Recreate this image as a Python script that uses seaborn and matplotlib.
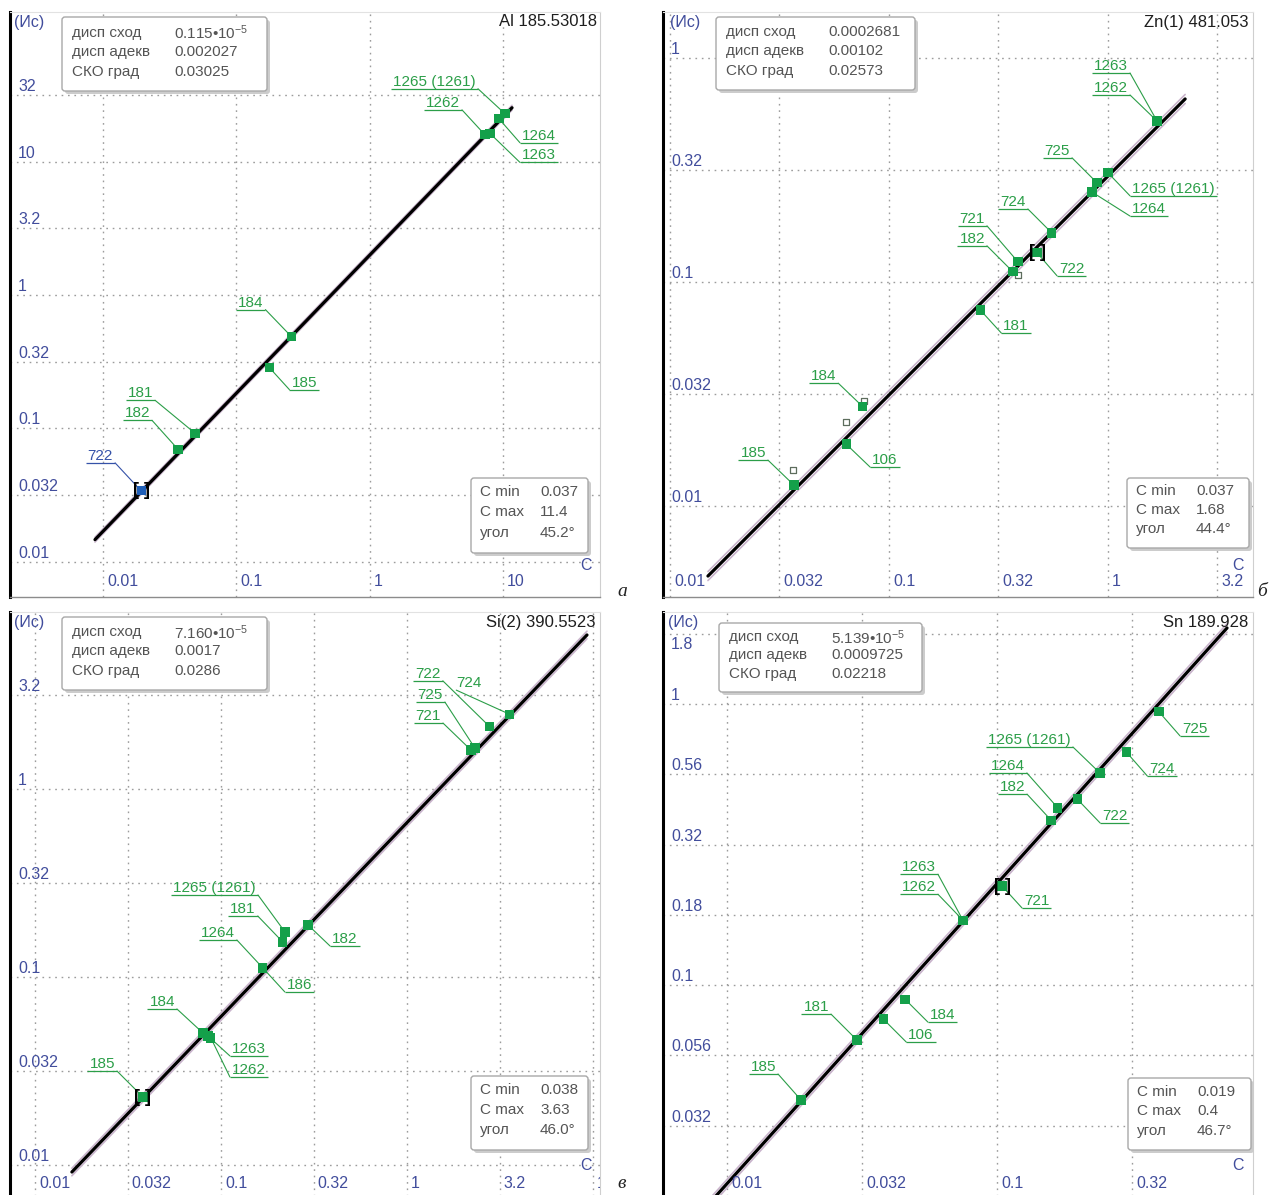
import matplotlib
matplotlib.use("Agg")
import matplotlib.pyplot as plt
from matplotlib.patches import FancyBboxPatch
from matplotlib.transforms import IdentityTransform
from matplotlib.ticker import FixedLocator, NullLocator
import numpy as np
import pandas as pd
import seaborn as sns

# ---------------- Al 185.53018 ----------------
al_ids = ["722", "181", "182", "184", "185", "1265 (1261)", "1262", "1264", "1263"]
al_c = [0.0193, 0.049, 0.0365, 0.259, 0.177, 10.35, 7.33, 9.33, 7.99]
al_i = [0.0339, 0.0917, 0.0695, 0.487, 0.285, 22.9, 15.9, 21.0, 16.3]
al_line_c = [0.0087, 11.7]
al_line_i = [0.0146, 25.4]
al_stats = ["0.115•$10^{-5}$", "0.002027", "0.03025"]
al_range = ["0.037", "11.4", "45.2°"]
al_xticks = [0.01, 0.1, 1, 10]
al_xlabels = ["0.01", "0.1", "1", "10"]
al_yticks = [0.01, 0.0316, 0.1, 0.316, 1, 3.16, 10, 31.6]
al_ylabels = ["0.01", "0.032", "0.1", "0.32", "1", "3.2", "10", "32"]

# ---------------- Zn(1) 481.053 ----------------
zn_ids = ["1263", "1262", "725", "1265 (1261)", "1264", "724", "722", "721",
          "182", "181", "184", "106", "185"]
zn_c = [1.674, 1.674, 0.891, 1.0, 0.845, 0.554, 0.474, 0.388,
        0.368, 0.261, 0.0755, 0.0637, 0.0368]
zn_i = [0.523, 0.523, 0.277, 0.307, 0.252, 0.1655, 0.135, 0.123,
        0.111, 0.075, 0.0279, 0.0189, 0.0124]
zn_excl_c = [0.0365, 0.0637, 0.0769, 0.388]
zn_excl_i = [0.01448, 0.0237, 0.0294, 0.1075]
zn_line_c = [0.0149, 2.25]
zn_line_i = [0.00487, 0.656]
zn_stats = ["0.0002681", "0.00102", "0.02573"]
zn_range = ["0.037", "1.68", "44.4°"]
zn_xticks = [0.01, 0.0316, 0.1, 0.316, 1, 3.16]
zn_xlabels = ["0.01", "0.032", "0.1", "0.32", "1", "3.2"]
zn_yticks = [0.01, 0.0316, 0.1, 0.316, 1]
zn_ylabels = ["0.01", "0.032", "0.1", "0.32", "1"]

# ---------------- Si(2) 390.5523 ----------------
si_ids = ["724", "722", "725", "721", "1265 (1261)", "181", "182", "1264", "186",
          "184", "1263", "1262", "185"]
si_c = [3.55, 2.79, 2.32, 2.21, 0.221, 0.215, 0.294, 0.168, 0.168,
        0.080, 0.0851, 0.0883, 0.0381]
si_i = [2.5, 2.14, 1.65, 1.61, 0.1735, 0.1535, 0.189, 0.1117, 0.1117,
        0.0504, 0.0486, 0.0474, 0.023]
si_line_c = [0.0158, 9.29]
si_line_i = [0.00918, 6.59]
si_stats = ["7.160•$10^{-5}$", "0.0017", "0.0286"]
si_range = ["0.038", "3.63", "46.0°"]
si_xticks = [0.01, 0.0316, 0.1, 0.316, 1, 3.16, 10]
si_xlabels = ["0.01", "0.032", "0.1", "0.32", "1", "3.2", "10"]
si_yticks = [0.01, 0.0316, 0.1, 0.316, 1, 3.16]
si_ylabels = ["0.01", "0.032", "0.1", "0.32", "1", "3.2"]

# ---------------- Sn 189.928 ----------------
sn_ids = ["725", "724", "1265 (1261)", "722", "1264", "182", "721", "1263", "1262",
          "184", "106", "181", "185"]
sn_c = [0.398, 0.301, 0.2405, 0.198, 0.168, 0.1585, 0.1044, 0.0748, 0.0748,
        0.0456, 0.0379, 0.0303, 0.0188]
sn_i = [0.937, 0.675, 0.568, 0.459, 0.4265, 0.386, 0.225, 0.170, 0.170,
        0.0891, 0.0757, 0.0637, 0.039]
sn_line_c = [0.0085, 0.711]
sn_line_i = [0.01652, 1.863]
sn_stats = ["5.139•$10^{-5}$", "0.0009725", "0.02218"]
sn_range = ["0.019", "0.4", "46.7°"]
sn_xticks = [0.01, 0.0316, 0.1, 0.316]
sn_xlabels = ["0.01", "0.032", "0.1", "0.32"]
sn_yticks = [0.0316, 0.0562, 0.1, 0.178, 0.316, 0.562, 1, 1.78]
sn_ylabels = ["0.032", "0.056", "0.1", "0.18", "0.32", "0.56", "1", "1.8"]

stat_names = ["дисп сход", "дисп адекв", "СКО град"]
range_names = ["C min", "C max", "угол"]

panels = [
    dict(title="Al 185.53018", ids=al_ids, c=al_c, i=al_i, line_c=al_line_c, line_i=al_line_i,
         stats=al_stats, rng=al_range, xticks=al_xticks, xlabels=al_xlabels,
         yticks=al_yticks, ylabels=al_ylabels, excl_c=[], excl_i=[], sel="722", blue="722"),
    dict(title="Zn(1) 481.053", ids=zn_ids, c=zn_c, i=zn_i, line_c=zn_line_c, line_i=zn_line_i,
         stats=zn_stats, rng=zn_range, xticks=zn_xticks, xlabels=zn_xlabels,
         yticks=zn_yticks, ylabels=zn_ylabels, excl_c=zn_excl_c, excl_i=zn_excl_i,
         sel="722", blue=None),
    dict(title="Si(2) 390.5523", ids=si_ids, c=si_c, i=si_i, line_c=si_line_c, line_i=si_line_i,
         stats=si_stats, rng=si_range, xticks=si_xticks, xlabels=si_xlabels,
         yticks=si_yticks, ylabels=si_ylabels, excl_c=[], excl_i=[], sel="185", blue=None),
    dict(title="Sn 189.928", ids=sn_ids, c=sn_c, i=sn_i, line_c=sn_line_c, line_i=sn_line_i,
         stats=sn_stats, rng=sn_range, xticks=sn_xticks, xlabels=sn_xlabels,
         yticks=sn_yticks, ylabels=sn_ylabels, excl_c=[], excl_i=[], sel="721", blue=None),
]

# Layout in pixels: frame = (left, top, right, bottom); label offsets = (dx, dy up, style)
layouts = [
    dict(frame=(10, 12, 600, 597), xlim=(-2.698, 1.728), ylim=(-2.266, 2.123),
         info=(62, 17, 267, 91), rbox=(471, 478, 588, 553), title_xy=(597, 22),
         unit_xy=(14, 22), c_xy=(586, 565), xlab_up=16, letter=("а", 622, 592),
         band=0.018, below=(),
         offsets={"722": (-26, 28, "u"), "181": (-40, 33, "u"), "182": (-26, 29, "u"),
                  "184": (-26, 27, "u"), "185": (20, -22, "u"),
                  "1265 (1261)": (-27, 25, "u"), "1262": (-23, 25, "u"),
                  "1264": (21, -24, "u"), "1263": (30, -29, "u")}),
    dict(frame=(663, 12, 1253, 597), xlim=(-2.032, 0.662), ylim=(-2.406, 0.205),
         info=(716, 17, 915, 90), rbox=(1127, 478, 1249, 548), title_xy=(1248, 22),
         unit_xy=(670, 22), c_xy=(1238, 565), xlab_up=16, letter=("б", 1262, 592),
         band=0.02, below=(),
         offsets={"1263": (-27, 48, "u"), "1262": (-27, 26, "u"), "725": (-25, 25, "u"),
                  "1265 (1261)": (22, -23, "u"), "1264": (38, -24, "u"),
                  "724": (-24, 24, "u"), "722": (20, -23, "u"), "721": (-31, 36, "u"),
                  "182": (-26, 26, "u"), "181": (21, -23, "u"), "184": (-24, 23, "u"),
                  "106": (24, -23, "u"), "185": (-26, 25, "u")}),
    dict(frame=(10, 612, 600, 1197), xlim=(-2.134, 1.038), ylim=(-2.170, 0.941),
         info=(62, 617, 267, 690), rbox=(471, 1076, 588, 1150), title_xy=(595, 622),
         unit_xy=(14, 623), c_xy=(586, 1165), xlab_up=14, letter=("в", 622, 1184),
         band=0.02, below=(),
         offsets={"724": (-53, 24, "plain"), "722": (-47, 46, "u"), "725": (-30, 46, "u"),
                  "721": (-28, 27, "u"), "1265 (1261)": (-27, 37, "u"),
                  "181": (-25, 26, "u"), "182": (22, -21, "u"), "1264": (-26, 28, "u"),
                  "186": (22, -24, "u"), "184": (-26, 24, "u"), "1263": (22, -20, "u"),
                  "1262": (19, -39, "u"), "185": (-26, 26, "u")}),
    dict(frame=(663, 612, 1253, 1197), xlim=(-2.237, -0.052), ylim=(-1.754, 0.327),
         info=(719, 623, 922, 692), rbox=(1128, 1078, 1251, 1150), title_xy=(1248, 623),
         unit_xy=(668, 623), c_xy=(1238, 1165), xlab_up=14, letter=None,
         band=0.015, below=("1.8",),
         offsets={"725": (21, -24, "u"), "724": (21, -24, "u"),
                  "1265 (1261)": (-27, 26, "u"), "722": (23, -24, "u"),
                  "1264": (-31, 35, "u"), "182": (-24, 26, "u"), "721": (20, -22, "u"),
                  "1263": (-25, 46, "u"), "1262": (-25, 26, "u"), "184": (23, -23, "u"),
                  "106": (23, -23, "u"), "181": (-26, 26, "u"), "185": (-23, 26, "u")}),
]

sns.set_style("white")
plt.rcParams["font.family"] = ["Liberation Sans", "DejaVu Sans"]
plt.rcParams["mathtext.fontset"] = "custom"
plt.rcParams["mathtext.rm"] = "Liberation Sans"
plt.rcParams["mathtext.it"] = "Liberation Sans:italic"
plt.rcParams["mathtext.bf"] = "Liberation Sans:bold"

GREEN_PT = "#14a04a"
GREEN_TXT = "#2b9e48"
BLUE_PT = "#1f5fb8"
BLUE_TXT = "#3552a8"
TICK = "#414d9c"
BOXTXT = "#545454"

W, H = 1270, 1195
fig = plt.figure(figsize=(W / 100, H / 100), dpi=100)
fig.patch.set_facecolor("white")


def fxy(x, y):
    return x / W, 1 - y / H


def draw_box(l, t, r, b):
    shadow = FancyBboxPatch((l + 3, H - b - 3), r - l, b - t,
                            boxstyle="round,pad=0,rounding_size=3",
                            transform=IdentityTransform(), facecolor="#cccccc",
                            edgecolor="none", zorder=1)
    box = FancyBboxPatch((l, H - b), r - l, b - t, boxstyle="round,pad=0,rounding_size=3",
                         transform=IdentityTransform(), facecolor="white",
                         edgecolor="#a8a8a8", lw=1, zorder=1.1)
    fig.add_artist(shadow)
    fig.add_artist(box)


axes = []
for spec, lay in zip(panels, layouts):
    l, t, r, b = lay["frame"]
    ax = fig.add_axes([l / W, 1 - b / H, (r - l) / W, (b - t) / H])
    ax.set_xscale("log")
    ax.set_yscale("log")
    xlim = (10 ** lay["xlim"][0], 10 ** lay["xlim"][1])
    ylim = (10 ** lay["ylim"][0], 10 ** lay["ylim"][1])
    ax.set_xlim(*xlim)
    ax.set_ylim(*ylim)

    # regression line with its thin companion band
    lc = np.array(spec["line_c"])
    li = np.array(spec["line_i"])
    k = 10 ** lay["band"]
    for f in (k, 1 / k):
        sns.lineplot(x=lc, y=li * f, ax=ax, color="#c9b4cc", lw=1.2,
                     estimator=None, sort=False, zorder=2)
    sns.lineplot(x=lc, y=li, ax=ax, color="black", lw=2.3, estimator=None,
                 sort=False, zorder=3)

    # excluded (hollow) points
    if spec["excl_c"]:
        sns.scatterplot(x=spec["excl_c"], y=spec["excl_i"], marker="s", s=14,
                        color="white", edgecolor="#5d6d5d", linewidth=0.9, ax=ax, zorder=4)

    df = pd.DataFrame({"id": spec["ids"], "C": spec["c"], "I": spec["i"]})
    df["kind"] = np.where(df["id"] == spec["blue"], "sel", "std")
    sns.scatterplot(data=df, x="C", y="I", hue="kind",
                    palette={"std": GREEN_PT, "sel": BLUE_PT}, marker="s", s=44,
                    linewidth=0, legend=False, ax=ax, zorder=5)

    # bracket around the reference sample
    srow = df[df["id"] == spec["sel"]].iloc[0]
    ax.text(srow["C"], srow["I"], "[ ]", ha="center", va="center", fontsize=13,
            fontweight="bold", color="black", zorder=6)

    ax.set_xlim(*xlim)
    ax.set_ylim(*ylim)
    ax.xaxis.set_major_locator(FixedLocator(spec["xticks"]))
    ax.yaxis.set_major_locator(FixedLocator(spec["yticks"]))
    ax.xaxis.set_minor_locator(NullLocator())
    ax.yaxis.set_minor_locator(NullLocator())
    ax.tick_params(length=0, labelbottom=False, labelleft=False)
    ax.grid(True, ls=(0, (1.2, 3.4)), color="#9c9c9c", lw=1.0)
    ax.set_xlabel("")
    ax.set_ylabel("")
    ax.set_facecolor("white")
    ax.spines["left"].set_color("black")
    ax.spines["left"].set_linewidth(2.2)
    ax.spines["bottom"].set_color("#8c8c8c")
    ax.spines["bottom"].set_linewidth(1.0)
    ax.spines["right"].set_color("#cfcfcf")
    ax.spines["top"].set_color("#e2e2e2")

    # tick labels inside the frame
    for v, s in zip(spec["yticks"], spec["ylabels"]):
        if s in lay["below"]:
            oy, va = -3, "top"
        else:
            oy, va = 4, "baseline"
        a = ax.annotate(s, xy=(0, v), xycoords=ax.get_yaxis_transform(), xytext=(8, oy),
                        textcoords="offset pixels", ha="left", va=va, color=TICK, fontsize=11.5)
        a.set_clip_path(ax.patch)
    for v, s in zip(spec["xticks"], spec["xlabels"]):
        a = ax.annotate(s, xy=(v, 0), xycoords=ax.get_xaxis_transform(),
                        xytext=(4, lay["xlab_up"]), textcoords="offset pixels",
                        ha="left", va="center", color=TICK, fontsize=11.5)
        a.set_clip_path(ax.patch)

    fig.text(*fxy(*lay["unit_xy"]), "(Ис)", ha="left", va="center", color=TICK, fontsize=11.5)
    fig.text(*fxy(*lay["c_xy"]), "C", ha="center", va="center", color=TICK, fontsize=11.5)
    fig.text(*fxy(*lay["title_xy"]), spec["title"], ha="right", va="center",
             color="#1e1e1e", fontsize=12)
    if lay["letter"]:
        let, lx, ly = lay["letter"]
        fig.text(*fxy(lx, ly), let, ha="center", va="center", fontsize=14, style="italic",
                 family="Liberation Serif", color="#222222")

    # statistics boxes
    il, it, ir, ib = lay["info"]
    draw_box(il, it, ir, ib)
    for kk, (nm, val) in enumerate(zip(stat_names, spec["stats"])):
        y = it + (ib - it) * (0.21, 0.47, 0.74)[kk]
        fig.text(*fxy(il + 10, y), nm, ha="left", va="center", color=BOXTXT, fontsize=11, zorder=4)
        fig.text(*fxy(il + 112, y), val, ha="left", va="center", color=BOXTXT, fontsize=11, zorder=4)
    rl, rt, rr, rb = lay["rbox"]
    draw_box(rl, rt, rr, rb)
    for kk, (nm, val) in enumerate(zip(range_names, spec["rng"])):
        y = rt + (rb - rt) * (0.19, 0.46, 0.73)[kk]
        fig.text(*fxy(rl + 9, y), nm, ha="left", va="center", color=BOXTXT, fontsize=11, zorder=4)
        fig.text(*fxy(rl + 69, y), val, ha="left", va="center", color=BOXTXT, fontsize=11, zorder=4)

    axes.append(ax)

# point labels with underline and leader line
fig.canvas.draw()
renderer = fig.canvas.get_renderer()
for ax, spec, lay in zip(axes, panels, layouts):
    inv = ax.transData.inverted()
    for pid, c, i in zip(spec["ids"], spec["c"], spec["i"]):
        dx, dy, style = lay["offsets"][pid]
        px, py = ax.transData.transform((c, i))
        axp, ayp = px + dx, py + dy
        col = BLUE_TXT if pid == spec["blue"] else GREEN_TXT
        if style == "plain":
            tx, ha = axp, "left"
        elif dx < 0:
            tx, ha = axp - 2, "right"
        else:
            tx, ha = axp + 2, "left"
        txt = ax.text(*inv.transform((tx, ayp + 3)), pid, ha=ha, va="baseline",
                      color=col, fontsize=11, zorder=6)
        w = txt.get_window_extent(renderer).width
        if style != "plain":
            x0, x1 = (axp - w - 4, axp) if dx < 0 else (axp, axp + w + 4)
            seg = inv.transform([(x0, ayp), (x1, ayp)])
            ax.plot(seg[:, 0], seg[:, 1], color=col, lw=0.9, zorder=4, solid_capstyle="butt")
        seg = inv.transform([(axp, ayp), (px, py)])
        ax.plot(seg[:, 0], seg[:, 1], color=col, lw=0.8, zorder=4)

fig.savefig("out.png", dpi=100, facecolor="white")
